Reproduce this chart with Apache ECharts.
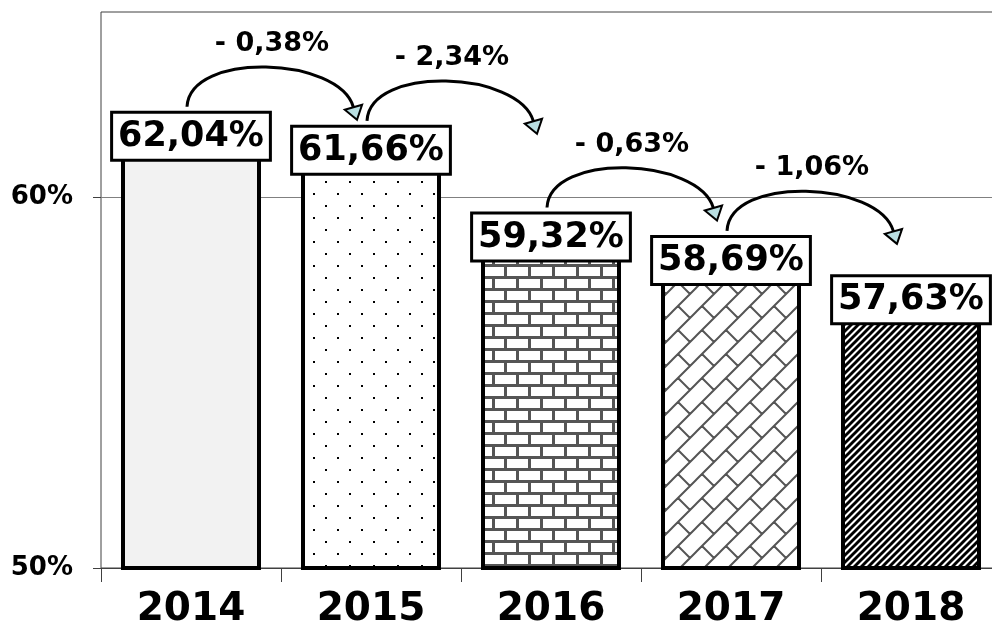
<!DOCTYPE html>
<html>
<head>
<meta charset="utf-8">
<script src="https://cdn.jsdelivr.net/npm/echarts@6/dist/echarts.min.js"></script>
<style>
html,body{margin:0;padding:0;background:#fff;}
#chart{width:992px;height:627px;}
</style>
</head>
<body>
<div id="chart"></div>
<script>
// ---- data ----
const categories = ['2014', '2015', '2016', '2017', '2018'];
const values = [62.04, 61.66, 59.32, 58.69, 57.63];
const changes = [-0.38, -2.34, -0.63, -1.06];
const yTicks = [50, 60];

// ---- fill patterns (style only) ----
function makeTile(w, h, draw) {
  const c = document.createElement('canvas');
  c.width = w; c.height = h;
  const ctx = c.getContext('2d');
  ctx.fillStyle = '#fff';
  ctx.fillRect(0, 0, w, h);
  draw(ctx, w, h);
  return { image: c, repeat: 'repeat' };
}
const dotsFill = makeTile(24, 24, (ctx) => {
  ctx.fillStyle = '#000';
  ctx.fillRect(1, 1, 2, 2);
  ctx.fillRect(13, 13, 2, 2);
});
const brickFill = makeTile(24, 24, (ctx) => {
  ctx.fillStyle = '#555';
  ctx.fillRect(0, 0, 24, 3);
  ctx.fillRect(0, 12, 24, 3);
  ctx.fillRect(0, 0, 3, 12);
  ctx.fillRect(12, 12, 3, 12);
});
const shingleFill = makeTile(24, 24, (ctx) => {
  ctx.strokeStyle = '#555';
  ctx.lineWidth = 2;
  ctx.beginPath();
  for (let c = -24; c <= 72; c += 24) {
    ctx.moveTo(-24, c + 24);
    ctx.lineTo(c + 24, -24);
  }
  for (let dx = -24; dx <= 24; dx += 24) {
    for (let dy = -24; dy <= 24; dy += 24) {
      ctx.moveTo(6 + dx, 18 + dy);
      ctx.lineTo(18 + dx, 30 + dy);
    }
  }
  ctx.stroke();
});
const stripeFill = makeTile(7, 7, (ctx) => {
  ctx.strokeStyle = '#000';
  ctx.lineWidth = 2.9;
  ctx.beginPath();
  for (let c = -7; c <= 21; c += 7) {
    ctx.moveTo(-7, c + 7);
    ctx.lineTo(c + 7, -7);
  }
  ctx.stroke();
});
const fills = ['#f2f2f2', dotsFill, brickFill, shingleFill, stripeFill];

const FONT = 'DejaVu Sans';
const fmtPct = v => v.toFixed(2).replace('.', ',') + '%';

function renderArrow(params, api) {
  const i = api.value(0);
  const a = api.coord([i, api.value(1)]);
  const b = api.coord([i + 1, api.value(2)]);
  const x0 = a[0] - 4, y0 = a[1] - 15;
  const tipX = b[0] - 14, tipY = y0 + 13;
  const c1x = x0 + 3, c1y = y0 - 56;
  const c2x = tipX - 18, c2y = y0 - 50;
  let dx = tipX - c2x, dy = tipY - c2y;
  const len = Math.hypot(dx, dy); dx /= len; dy /= len;
  const L = 13, W = 18;
  const bx = tipX - dx * L, by = tipY - dy * L;
  const nx = -dy, ny = dx;
  const ch = api.value(3);
  const txt = '- ' + Math.abs(ch).toFixed(2).replace('.', ',') + '%';
  return {
    type: 'group',
    children: [
      {
        type: 'bezierCurve',
        shape: { x1: x0, y1: y0, cpx1: c1x, cpy1: c1y, cpx2: c2x, cpy2: c2y, x2: bx, y2: by },
        style: { stroke: '#000', lineWidth: 3, fill: null }
      },
      {
        type: 'polygon',
        shape: { points: [[tipX, tipY], [bx + nx * W / 2, by + ny * W / 2], [bx - nx * W / 2, by - ny * W / 2]] },
        style: { fill: '#b9dfe2', stroke: '#000', lineWidth: 2 }
      },
      {
        type: 'text',
        style: {
          x: (x0 + tipX) / 2, y: y0 - 63,
          text: txt, fill: '#000', align: 'center', verticalAlign: 'middle',
          font: 'bold 27px "' + FONT + '"'
        }
      }
    ]
  };
}

const chart = echarts.init(document.getElementById('chart'), null, { renderer: 'canvas' });
chart.setOption({
  animation: false,
  backgroundColor: '#fff',
  grid: {
    left: 101, top: 12, width: 900, bottom: 59,
    show: true, borderColor: '#404040', borderWidth: 1, backgroundColor: '#fff',
    outerBoundsMode: 'none'
  },
  xAxis: {
    type: 'category',
    data: categories,
    axisLine: { show: true, lineStyle: { color: '#404040', width: 1 } },
    axisTick: { show: true, length: 14, lineStyle: { color: '#404040', width: 1 } },
    axisLabel: {
      color: '#000', fontFamily: FONT, fontWeight: 'bold', fontSize: 39,
      lineHeight: 40, margin: 22
    }
  },
  yAxis: {
    type: 'value',
    min: 50, max: 65, interval: 10,
    axisLine: { show: false },
    axisTick: { show: true, length: 8, customValues: yTicks, lineStyle: { color: '#404040' } },
    axisLabel: {
      customValues: yTicks,
      formatter: v => v + '%',
      color: '#000', fontFamily: FONT, fontWeight: 'bold', fontSize: 26, margin: 28
    },
    splitLine: { show: true, lineStyle: { color: '#808080', width: 1 } }
  },
  series: [
    {
      type: 'bar',
      barWidth: 140,
      data: values.map((v, i) => ({ value: v, itemStyle: { color: fills[i] } })),
      itemStyle: { borderColor: '#000', borderWidth: 4 },
      label: {
        show: true, position: 'insideTop', distance: 0, offset: [0, -8],
        formatter: p => fmtPct(p.value),
        color: '#000', fontFamily: FONT, fontWeight: 'bold', fontSize: 35, lineHeight: 40,
        backgroundColor: '#fff', borderColor: '#000', borderWidth: 3, padding: [3, 5, 2, 5]
      },
      z: 2
    },
    {
      type: 'custom',
      clip: false,
      silent: true,
      z: 5,
      renderItem: renderArrow,
      encode: { x: 0, y: 1 },
      data: changes.map((c, i) => [i, values[i], values[i + 1], c])
    }
  ]
});
</script>
</body>
</html>
